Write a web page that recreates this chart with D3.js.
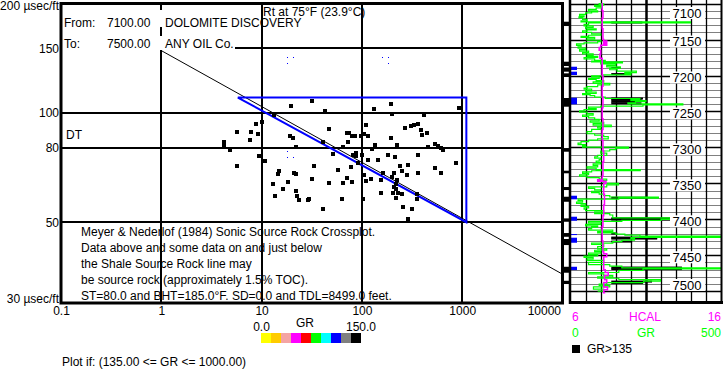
<!DOCTYPE html>
<html>
<head>
<meta charset="utf-8">
<script src="https://cdn.jsdelivr.net/npm/d3@7"></script>
<style>
body { margin: 0; background: #fff; }
svg { display: block; font-family: "Liberation Sans", Arial, sans-serif; }
</style>
</head>
<body>
<div id="viz"></div>
<script>
// Crossplot samples (GR > 135): resistivity Rt and sonic DT.
var rtValues = [19.6, 31.7, 42.8, 13.3, 10.0, 8.7, 5.7, 7.85, 9.2, 19.1, 20.5, 46.9, 7.66, 4.2, 4.2, 40.6, 22.0, 65.5, 4.84, 9.4,
	51.5, 10.8, 5.7, 33.2, 57.6, 14.9, 14.5, 20.9, 22.2, 31.9, 47, 65.5, 13.0, 18.2, 16.4, 22.0, 13.6, 22.5, 23.6, 29.2,
	29.8, 63.3, 40.6, 131, 195, 200, 929, 414, 110, 269, 307, 330, 360, 390, 400, 445, 71, 74, 79.5, 86,
	98, 106, 116, 72.5, 195, 226, 135, 125, 455, 532, 570, 620, 640, 88, 87, 101, 82, 114, 145, 184,
	216, 362, 870, 92, 240, 290, 532, 613, 364, 253, 280, 209, 163, 105, 71, 78, 124, 154, 110, 200,
	226, 218, 209, 220, 203, 228, 250, 154, 79, 355, 352, 217, 103, 256, 317, 290];
var dtValues = [104.2, 107.6, 101.0, 98.7, 94.2, 93.0, 88.5, 88.5, 87.3, 86.4, 85.2, 90.2, 84.1, 83.0, 81.5, 83.0, 80.6, 80.6, 79.1, 76.2,
	77.0, 73.6, 71.2, 71.4, 69.5, 69.1, 67.9, 68.3, 67.8, 65.7, 64.0, 64.0, 63.5, 64.4, 61.7, 60.9, 59.0, 59.0, 57.4, 57.4,
	57.8, 57.8, 54.3, 102.4, 105.4, 99.1, 102.9, 98.3, 92.6, 90.8, 92.0, 92.6, 93.2, 89.8, 86.6, 87.7, 87.9, 88.0, 86.3, 86.1,
	86.3, 87.6, 86.1, 83.1, 85.3, 81.5, 81.5, 79.2, 80.6, 82.2, 80.9, 79.7, 79.0, 77.3, 75.8, 76.5, 76.5, 74.2, 74.2, 76.5,
	75.5, 76.5, 72.9, 72.6, 71.4, 71.9, 70.4, 68.1, 68.1, 69.1, 67.5, 68.1, 68.1, 67.2, 66.1, 70.9, 65.6, 65.2, 64.7, 66.4,
	65.1, 63.8, 62.6, 61.5, 60.2, 60.2, 59.6, 60.2, 64.6, 59.7, 57.8, 58.2, 57.8, 55.0, 54.2, 51.0];

// Small blue marks.
var dotRt = [17.8, 17.8, 20.7, 157, 180, 180, 17.8, 17.8, 20.7];
var dotDT = [141.9, 136.6, 141.9, 141.9, 141.9, 136.6, 78.4, 75.5, 75.5];

// Source rock line and window.
var lineRt = [1, 10000];
var lineDT = [148, 36];
var windowRt = [5.8, 1100, 1100];
var windowDT = [110, 110, 50];

// Axes.
var xTicks = [0.1, 1, 10, 100, 1000, 10000];
var xLabels = ["0.1", "1", "10", "100", "1000", "10000"];
var xGrid = [1, 10, 100, 1000];
var yTicks = [200, 150, 100, 80, 50, 30];
var yLabels = ["200 \u00b5sec/ft", "150", "100", "80", "50", "30 \u00b5sec/ft"];
var yGrid = [150, 100, 80, 50];

// GR colour legend.
var grColors = ["#ffff00", "#ffcc00", "#f4a4a4", "#ff00ff", "#ff0000", "#00ff00", "#00ffff", "#0000ff", "#808080", "#000000"];

// Log track.
var grDepth = [7099, 7100.5, 7102, 7104, 7106, 7108, 7110, 7111.5, 7113, 7115, 7117, 7118.5, 7120, 7122, 7124, 7125.5,
	7127, 7129, 7131, 7133, 7135, 7136.5, 7138, 7140, 7142, 7144, 7145.5, 7147, 7149, 7151, 7153, 7154.5,
	7156, 7158, 7160, 7162, 7164, 7166, 7168, 7170, 7172, 7173.5, 7175, 7177, 7179, 7180, 7181,
	7182.5, 7184, 7186, 7188, 7190, 7192, 7194, 7196, 7197.5, 7199, 7200.5, 7202, 7204, 7205.5,
	7207, 7209, 7211, 7213, 7215.5, 7217.5, 7219, 7221, 7223, 7225, 7226.5, 7228, 7230, 7232, 7233.5,
	7235, 7236.5, 7238, 7239.5, 7241, 7242.5, 7244, 7246, 7247.5, 7249, 7251, 7253, 7255, 7257,
	7259, 7261, 7263, 7265, 7267, 7269, 7271, 7273, 7275, 7278, 7281, 7283, 7285, 7288,
	7290, 7292, 7294, 7296, 7298, 7299.5, 7301, 7303, 7305, 7308, 7311, 7313, 7315, 7317, 7319, 7321, 7323, 7325,
	7327, 7329, 7331, 7332.5, 7334, 7336, 7338, 7340, 7342, 7344, 7346, 7348, 7350, 7352,
	7355, 7357, 7359, 7361, 7363, 7365, 7367, 7369, 7370.5, 7372, 7374, 7376, 7378, 7380, 7382, 7384,
	7386, 7388, 7390, 7392, 7394, 7396, 7398, 7400, 7401.5, 7403, 7405, 7407, 7409, 7411,
	7413, 7415, 7417, 7419, 7420.5, 7422, 7423.5, 7425, 7427, 7429, 7431, 7433, 7435, 7438, 7441,
	7443, 7445, 7447, 7449, 7451, 7453, 7455, 7457, 7460, 7463, 7465, 7467.5, 7469, 7471,
	7474, 7476, 7478, 7480, 7482, 7484, 7486, 7488, 7490, 7492, 7494, 7497, 7500];
var grValue = [95, 110, 80, 105, 85, 60, 90, 70, 50, 30, 45, 28, 40, 55, 35, 397,
	60, 45, 75, 50, 85, 55, 40, 70, 100, 60, 35, 80, 55, 100, 90, 45,
	20, 35, 25, 50, 30, 60, 40, 75, 55, 90, 45, 80, 115, 70, 172,
	100, 150, 120, 165, 130, 155, 218, 180, 200, 110, 70, 95, 60, 85,
	110, 75, 130, 90, 55, 45, 70, 50, 85, 40, 65, 80, 115, 230, 200,
	250, 215, 190, 372, 240, 100, 60, 85, 45, 30, 55, 75, 40, 60,
	80, 95, 65, 110, 75, 135, 90, 100, 70, 55, 80, 110, 125, 90,
	60, 35, 25, 50, 40, 192, 150, 130, 100, 120, 90, 80, 100, 95, 85, 100, 75, 90,
	55, 85, 231, 70, 40, 60, 30, 55, 95, 120, 105, 110, 159, 120,
	60, 80, 100, 70, 95, 110, 130, 291, 160, 25, 40, 20, 50, 35, 60, 45,
	50, 110, 80, 130, 140, 140, 331, 300, 170, 60, 100, 50, 90, 70,
	60, 140, 90, 150, 180, 230, 500, 200, 212, 170, 140, 70, 110, 90, 120,
	80, 100, 60, 90, 45, 75, 55, 110, 60, 130, 170, 500, 240, 160,
	60, 110, 140, 90, 160, 298, 242, 120, 95, 130, 76, 110, 90];
var calDepth = [7099, 7110, 7120, 7135, 7150, 7152, 7154, 7156, 7158, 7161, 7165, 7170, 7176, 7190, 7200, 7215, 7230, 7245,
	7260, 7275, 7290, 7305, 7320, 7340, 7345, 7347, 7350, 7365, 7380, 7395, 7410, 7430, 7445, 7448, 7452, 7470,
	7474, 7478, 7484, 7488, 7494, 7498, 7502];
var calValue = [8.1, 8.15, 8.1, 8.15, 8.2, 8.4, 8.2, 8.4, 8.0, 7.9, 8.0, 7.95, 8.1, 8.1, 8.15, 8.1, 8.15, 8.1,
	8.15, 8.1, 8.15, 8.2, 8.15, 8.1, 7.8, 8.35, 8.2, 8.25, 8.2, 8.15, 8.1, 8.15, 8.2, 8.4, 8.2, 8.3,
	8.5, 8.25, 8.4, 8.2, 8.45, 8.2, 8.3];
// GR > 135 shading: depth and GR reached.
var barDepth = [7126.3, 7189.6, 7198, 7232, 7234, 7236.5, 7238.7, 7370, 7398.7, 7400.4, 7419.8, 7425.4, 7426.8, 7431, 7467.1, 7469.2, 7486.6, 7488.7];
var barValue = [238, 165, 198, 240, 235, 215, 235, 250, 331, 331, 155, 287, 287, 204, 369, 369, 270, 240];
// Flag column (black) and blue markers: top and bottom depths.
var flagTop = [7125.2, 7180.8, 7188.9, 7197, 7231.3, 7300.9, 7332.4, 7355.1, 7368.6, 7398.7, 7419.1, 7427.4, 7466, 7485.5];
var flagBottom = [7131.2, 7186.8, 7194.7, 7202.1, 7243.4, 7306, 7336, 7359.3, 7375.6, 7403.4, 7424.3, 7435.8, 7474.3, 7490];
var blueTop = [7187.8, 7194.7, 7230.9, 7367.2, 7396.4, 7420.5, 7425.6, 7466];
var blueBottom = [7192.4, 7199.3, 7240.1, 7372.2, 7402, 7421.9, 7432.6, 7470.6];
var depthLabels = [7100, 7150, 7200, 7250, 7300, 7350, 7400, 7450, 7500];

var svg = d3.select("#viz")
	.append("svg")
	.attr("width", 723)
	.attr("height", 369);

var x = d3.scaleLog().domain([0.1, 10000]).range([61, 562.5]);
var y = d3.scaleLog().domain([200, 30]).range([3, 303]);

// Grid.
svg.selectAll(".vgrid").data(xGrid).enter().append("line")
	.attr("x1", d => Math.round(x(d))).attr("x2", d => Math.round(x(d)))
	.attr("y1", 3).attr("y2", 303)
	.attr("stroke", "#000").attr("stroke-width", 2).attr("shape-rendering", "crispEdges");
svg.selectAll(".hgrid").data(yGrid).enter().append("line")
	.attr("x1", 61).attr("x2", 562.5)
	.attr("y1", d => Math.round(y(d))).attr("y2", d => Math.round(y(d)))
	.attr("stroke", "#000").attr("stroke-width", 2).attr("shape-rendering", "crispEdges");

// Header boxes.
svg.append("rect").attr("x", 62).attr("y", 10).attr("width", 196).attr("height", 17).attr("fill", "#fff");
svg.append("rect").attr("x", 62).attr("y", 36).attr("width", 173).attr("height", 14).attr("fill", "#fff");

var hdr = [["From:", 64, 26.5], ["7100.00", 107, 26.5], ["DOLOMITE DISCOVERY", 165, 26.5],
	["To:", 64, 48], ["7500.00", 107, 48], ["ANY OIL Co.", 165, 48], ["Rt at 75\u00b0F (23.9\u00b0C)", 263, 15.5]];
svg.selectAll(".hdr").data(hdr).enter().append("text")
	.attr("x", d => d[0] ? d[1] : 0).attr("y", d => d[2])
	.attr("font-size", 12).text(d => d[0]);

// Source rock line.
var line = d3.line().x(d => x(d[0])).y(d => y(d[1]));
svg.append("path")
	.attr("d", line(d3.zip(lineRt, lineDT)))
	.attr("fill", "none").attr("stroke", "#000").attr("stroke-width", 1);

svg.append("path")
	.attr("d", line(d3.zip(windowRt, windowDT)) + "Z")
	.attr("fill", "none").attr("stroke", "#0000ff").attr("stroke-width", 2);

// Points.
svg.selectAll(".pt").data(d3.zip(rtValues, dtValues)).enter().append("rect")
	.attr("x", d => Math.round(x(d[0])) - 2).attr("y", d => Math.round(y(d[1])) - 2)
	.attr("width", 4).attr("height", 4).attr("fill", "#000");

svg.selectAll(".dot").data(d3.zip(dotRt, dotDT)).enter().append("rect")
	.attr("x", d => Math.round(x(d[0]))).attr("y", d => Math.round(y(d[1])))
	.attr("width", 1).attr("height", 1).attr("fill", "#0000ff");

// Notes.
var notes = ["Meyer & Nederlof (1984) Sonic Source Rock Crossplot.",
	"Data above and some data on and just below",
	"the Shale Source Rock line may",
	"be source rock (approximately 1.5% TOC).",
	"ST=80.0 and BHT=185.0\u00b0F. SD=0.0 and TDL=8499.0 feet."];
svg.selectAll(".note").data(notes).enter().append("text")
	.attr("x", 81).attr("y", (d, i) => 236 + i * 16)
	.attr("font-size", 12).text(d => d);

// Frame.
svg.append("rect").attr("x", 61).attr("y", 3.5).attr("width", 501.5).attr("height", 299.5)
	.attr("fill", "none").attr("stroke", "#000").attr("stroke-width", 3);

// Axes.
var yAxis = svg.append("g").attr("transform", "translate(60,0)")
	.call(d3.axisLeft(y).tickValues(yTicks).tickSize(0).tickPadding(1)
		.tickFormat((d, i) => yLabels[i]));
yAxis.select(".domain").remove();
yAxis.selectAll("text").attr("font-size", 12).attr("font-family", null).attr("fill", "#000")
	.attr("y", d => d == 200 ? 3 : (d == 30 ? -4.5 : 0));

var xAxis = svg.append("g").attr("transform", "translate(0,303)")
	.call(d3.axisBottom(x).tickValues(xTicks).tickSize(0).tickPadding(3)
		.tickFormat((d, i) => xLabels[i]));
xAxis.select(".domain").remove();
xAxis.selectAll("text").attr("font-size", 12).attr("font-family", null).attr("fill", "#000")
	.attr("text-anchor", d => d == 10000 ? "end" : "middle")
	.attr("x", d => d == 10000 ? -2 : 0);

svg.append("text").attr("x", 66).attr("y", 139).attr("font-size", 12).text("DT");

// GR legend.
svg.selectAll(".sw").data(grColors).enter().append("rect")
	.attr("x", (d, i) => 261 + i * 10).attr("y", 333)
	.attr("width", 10).attr("height", 10).attr("fill", d => d);
svg.append("text").attr("x", 305).attr("y", 326.5).attr("text-anchor", "middle").attr("font-size", 12).text("GR");
svg.append("text").attr("x", 261.5).attr("y", 331).attr("text-anchor", "middle").attr("font-size", 12).text("0.0");
svg.append("text").attr("x", 361).attr("y", 331).attr("text-anchor", "middle").attr("font-size", 12).text("150.0");
svg.append("text").attr("x", 62).attr("y", 366).attr("font-size", 12).text("Plot if: (135.00 <= GR <= 1000.00)");

// Log track.
var gx = d3.scaleLinear().domain([0, 500]).range([570.5, 721.5]);
var cx = d3.scaleLinear().domain([6, 16]).range([570.5, 721.5]);
var dy = d3.scaleLinear().domain([7095, 7515]).range([0, 302]);

svg.append("clipPath").attr("id", "trk").append("rect")
	.attr("x", 570).attr("y", 0).attr("width", 152).attr("height", 302);

var tenFt = d3.range(7100, 7501, 10);
svg.selectAll(".dl").data(tenFt).enter().append("line")
	.attr("x1", 570).attr("x2", 722)
	.attr("y1", d => Math.round(dy(d)) + 0.5).attr("y2", d => Math.round(dy(d)) + 0.5)
	.attr("stroke", d => d % 50 == 0 ? "#000" : "#808080")
	.attr("stroke-width", d => d % 50 == 0 ? 1.5 : 1.2);
svg.selectAll(".gl").data(d3.range(50, 500, 50)).enter().append("line")
	.attr("x1", d => Math.round(gx(d)) + 0.5).attr("x2", d => Math.round(gx(d)) + 0.5)
	.attr("y1", 0).attr("y2", 302)
	.attr("stroke", "#000").attr("stroke-width", d => d == 250 ? 2.5 : 1.3);

// GR > 135 shading.
svg.selectAll(".bar").data(d3.zip(barDepth, barValue)).enter().append("rect")
	.attr("x", gx(135)).attr("y", d => dy(d[0]) - 1)
	.attr("width", d => gx(d[1]) - gx(135)).attr("height", 2)
	.attr("fill", "#000");

var grLine = d3.line().x(d => gx(d[1])).y(d => dy(d[0])).curve(d3.curveStepBefore);
svg.append("path").attr("clip-path", "url(#trk)")
	.attr("d", grLine(d3.zip(grDepth, grValue)))
	.attr("fill", "none").attr("stroke", "#00ff00").attr("stroke-width", 1.2);
var calLine = d3.line().x(d => cx(d[1])).y(d => dy(d[0])).curve(d3.curveStepBefore);
svg.append("path").attr("clip-path", "url(#trk)")
	.attr("d", calLine(d3.zip(calDepth, calValue)))
	.attr("fill", "none").attr("stroke", "#ff00ff").attr("stroke-width", 1.5);

// Flags.
svg.selectAll(".flag").data(d3.zip(flagTop, flagBottom)).enter().append("rect")
	.attr("x", 563).attr("y", d => dy(d[0]))
	.attr("width", 7).attr("height", d => dy(d[1]) - dy(d[0]))
	.attr("fill", "#000");
svg.selectAll(".blue").data(d3.zip(blueTop, blueBottom)).enter().append("rect")
	.attr("x", 571).attr("y", d => dy(d[0]))
	.attr("width", 6).attr("height", d => dy(d[1]) - dy(d[0]))
	.attr("fill", "#0000ff");

// Depth labels.
var lab = svg.selectAll(".lab").data(depthLabels).enter().append("g")
	.attr("transform", d => "translate(687," + Math.max(13, Math.min(285, dy(d) + 2)) + ")");
lab.append("rect").attr("x", -17).attr("y", -6).attr("width", 35).attr("height", 12).attr("fill", "#fff");
lab.append("text").attr("text-anchor", "middle").attr("dy", "0.36em").attr("font-size", 13).text(d => d);

// Track borders.
svg.append("line").attr("x1", 570).attr("x2", 570).attr("y1", 0).attr("y2", 304)
	.attr("stroke", "#000").attr("stroke-width", 2.5);
svg.append("line").attr("x1", 721.5).attr("x2", 721.5).attr("y1", 0).attr("y2", 304)
	.attr("stroke", "#000").attr("stroke-width", 2);
svg.append("line").attr("x1", 569).attr("x2", 723).attr("y1", 302.5).attr("y2", 302.5)
	.attr("stroke", "#000").attr("stroke-width", 3);

// Track legend.
var leg = [["6", 572, 321, "start", "#ff00ff"], ["HCAL", 645, 321, "middle", "#ff00ff"], ["16", 721, 321, "end", "#ff00ff"],
	["0", 572, 337, "start", "#00ff00"], ["GR", 646, 337, "middle", "#00ff00"], ["500", 721, 337, "end", "#00ff00"],
	["GR>135", 587, 353, "start", "#000"]];
svg.selectAll(".leg").data(leg).enter().append("text")
	.attr("x", d => d[1]).attr("y", d => d[2]).attr("text-anchor", d => d[3])
	.attr("fill", d => d[4]).attr("font-size", 12).text(d => d[0]);
svg.append("rect").attr("x", 572).attr("y", 345).attr("width", 8).attr("height", 8).attr("fill", "#000");
</script>
</body>
</html>
